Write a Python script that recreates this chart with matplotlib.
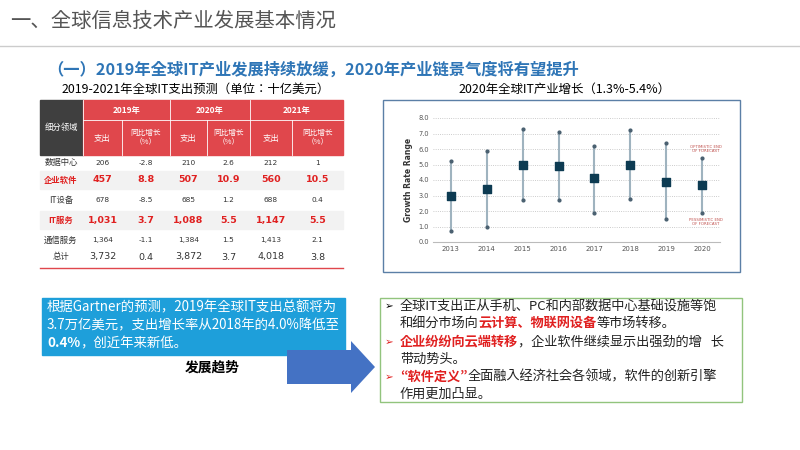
import matplotlib
matplotlib.use("Agg")
import matplotlib.pyplot as plt
from matplotlib.patches import Rectangle, FancyArrow
import numpy as np

plt.rcParams['font.family'] = ['Noto Sans CJK JP', 'DejaVu Sans']

# ---- data ----
years = ['2013', '2014', '2015', '2016', '2017', '2018', '2019', '2020']
mid = [3.0, 3.4, 5.0, 4.9, 4.1, 5.0, 3.9, 3.7]
low = [0.7, 1.0, 2.7, 2.7, 1.9, 2.8, 1.5, 1.9]
high = [5.2, 5.9, 7.3, 7.1, 6.2, 7.2, 6.4, 5.4]
yticks = [0.0, 1.0, 2.0, 3.0, 4.0, 5.0, 6.0, 7.0, 8.0]

table_years = ['2019年', '2020年', '2021年']
row_names = ['数据中心', '企业软件', 'IT设备', 'IT服务', '通信服务', '总计']
row_values = [
    ['206', '-2.8', '210', '2.6', '212', '1'],
    ['457', '8.8', '507', '10.9', '560', '10.5'],
    ['678', '-8.5', '685', '1.2', '688', '0.4'],
    ['1,031', '3.7', '1,088', '5.5', '1,147', '5.5'],
    ['1,364', '-1.1', '1,384', '1.5', '1,413', '2.1'],
    ['3,732', '0.4', '3,872', '3.7', '4,018', '3.8'],
]
highlight = [False, True, False, True, False, False]

W, H = 800, 450
fig = plt.figure(figsize=(8, 4.5), dpi=100)
fig.patch.set_facecolor('white')
R = fig.canvas.get_renderer()

def fx(x): return x / W
def fy(y): return 1 - y / H
def rect(x0, y0, x1, y1, **kw):
    fig.add_artist(Rectangle((fx(x0), fy(y1)), fx(x1 - x0), (y1 - y0) / H,
                             transform=fig.transFigure, **kw))
def txt(x, y, s, **kw):
    return fig.text(fx(x), fy(y), s, **kw)
def width(t):
    return t.get_window_extent(R).width * W / fig.bbox.width
def fit(x, y, s, wpx, **kw):
    t = txt(x, y, s, fontsize=10, **kw)
    w = width(t)
    t.set_fontsize(10 * wpx / w)
    return t

# titles
fit(10, 21, '一、全球信息技术产业发展基本情况', 325, color='#555555', va='center')
fig.add_artist(plt.Line2D([0, 1], [fy(46), fy(46)], color='#cccccc', lw=1))
fit(47, 70, '（一）2019年全球IT产业发展持续放缓，2020年产业链景气度将有望提升', 533,
    color='#2E75B6', fontweight='bold', va='center')
fit(62, 89, '2019-2021年全球IT支出预测（单位：十亿美元）', 268, va='center')
fit(458, 89, '2020年全球IT产业增长（1.3%-5.4%）', 212, va='center')

# table
red = '#E0474C'
cols = [83, 122, 170, 207, 250, 292, 343]
rect(40, 100, 83, 155, color='#3F3F3F')
txt(61, 127, '细分领域', fontsize=6, color='white', ha='center', va='center')
rect(83, 100, 343, 155, color=red)
for i, yr in enumerate(table_years):
    xa, xb = cols[2 * i], cols[2 * i + 2]
    txt((xa + xb) / 2, 110, yr, fontsize=6, color='white', ha='center', va='center', fontweight='bold')
    fig.add_artist(plt.Line2D([fx(xa), fx(xa)], [fy(100), fy(155)], color='white', lw=0.6))
    txt((cols[2 * i] + cols[2 * i + 1]) / 2, 138, '支出', fontsize=6, color='white', ha='center', va='center')
    txt((cols[2 * i + 1] + cols[2 * i + 2]) / 2, 138, '同比增长\n（%）', fontsize=5.5, color='white',
        ha='center', va='center', linespacing=1.2)
    fig.add_artist(plt.Line2D([fx(cols[2 * i + 1])] * 2, [fy(120), fy(155)], color='white', lw=0.6))
fig.add_artist(plt.Line2D([fx(83), fx(343)], [fy(120), fy(120)], color='white', lw=0.6))
row_y = [163, 180, 200, 220, 240, 257]
for r, (name, vals) in enumerate(zip(row_names, row_values)):
    y = row_y[r]
    hl = highlight[r]
    if hl:
        rect(40, y - 9, 343, y + 9, color='#F2F2F2')
    c = '#E02020' if hl else '#333333'
    fw = 'bold' if hl else 'normal'
    txt(61, y, name, fontsize=6, color=c, fontweight=fw, ha='center', va='center')
    for j, v in enumerate(vals):
        big = hl or r == 5
        txt((cols[j] + cols[j + 1]) / 2, y, v, fontsize=6.8 if big else 5.3,
            color=c, fontweight=fw, ha='center', va='center', family='DejaVu Sans')
fig.add_artist(plt.Line2D([fx(40), fx(343)], [fy(268), fy(268)], color=red, lw=1))

# chart box
rect(383, 100, 740, 272, fill=False, ec='#5B7FA6', lw=1)
ax = fig.add_axes([fx(433), fy(242), fx(720 - 433), (242 - 118) / H])
x = np.arange(len(years))
ax.vlines(x, low, high, color='#9FB3BF', lw=1.5)
ax.scatter(x, low, s=4, color='#4a6070', zorder=3)
ax.scatter(x, high, s=4, color='#4a6070', zorder=3)
ax.scatter(x, mid, marker='s', s=30, color='#0D3B52', zorder=4)
ax.set_ylim(0, 8)
ax.set_yticks(yticks)
ax.set_yticklabels([f'{v:.1f}' for v in yticks], fontsize=4.8, color='#555555', family='DejaVu Sans')
ax.set_xticks(x)
ax.set_xticklabels(years, fontsize=5, color='#555555', family='DejaVu Sans')
ax.set_xlim(-0.5, len(years) - 0.5)
ax.grid(axis='y', ls=':', color='#bbbbbb', lw=0.6)
for s in ['top', 'right', 'left']:
    ax.spines[s].set_visible(False)
ax.spines['bottom'].set_color('#bbbbbb')
ax.tick_params(length=0, pad=3)
ax.set_ylabel('Growth Rate Range', fontsize=5.5, fontweight='bold', color='#333333', labelpad=4,
              family='DejaVu Sans')
ax.text(x[-1] + 0.1, 6.0, 'OPTIMISTIC END\nOF FORECAST', fontsize=2.8, color='#C0504D', ha='center', va='center',
        family='DejaVu Sans')
ax.text(x[-1] + 0.1, 1.3, 'PESSIMISTIC END\nOF FORECAST', fontsize=2.8, color='#C0504D', ha='center', va='center',
        family='DejaVu Sans')

# blue text box
rect(42, 298, 345, 355, color='#1E9FDA')
blue_fs = fit(47, 307, '根据Gartner的预测，2019年全球IT支出总额将为', 290, color='white', va='center').get_fontsize()
txt(47, 325, '3.7万亿美元，支出增长率从2018年的4.0%降低至', fontsize=blue_fs, color='white', va='center')
t = txt(47, 343, '0.4%', fontsize=blue_fs, color='white', va='center', fontweight='bold')
txt(47 + width(t), 343, '，创近年来新低。', fontsize=blue_fs, color='white', va='center')

fit(185, 368, '发展趋势', 55, fontweight='bold', va='center')
fig.add_artist(FancyArrow(fx(287), fy(367), fx(64), 0, width=34 / H, head_width=52 / H,
                          head_length=fx(24), length_includes_head=False,
                          transform=fig.transFigure, color='#4472C4', lw=0))

# right box
rect(380, 298, 742, 402, fill=False, ec='#92C47D', lw=1)
lines = [
    (306, [('全球IT支出正从手机、PC和内部数据中心基础设施等饱', 'k')], '➢', 'k'),
    (323, [('和细分市场向', 'k'), ('云计算、物联网设备', 'r'), ('等市场转移。', 'k')], None, None),
    (342, [('企业纷纷向云端转移', 'r'), ('，企业软件继续显示出强劲的增   长', 'k')], '➢', 'r'),
    (359, [('带动势头。', 'k')], None, None),
    (377, [('“软件定义”', 'r'), ('全面融入经济社会各领域，软件的创新引擎', 'k')], '➢', 'r'),
    (394, [('作用更加凸显。', 'k')], None, None),
]
tmp = txt(0, 0, '全球IT支出正从手机、PC和内部数据中心基础设施等饱', fontsize=10)
fs = 10 * 318 / width(tmp)
tmp.remove()
for y, parts, bullet, bc in lines:
    if bullet:
        txt(385, y, bullet, fontsize=7.5, color='#E02020' if bc == 'r' else 'k', va='center',
            family='DejaVu Sans')
    xpos = 400
    for s, c in parts:
        t = txt(xpos, y, s, fontsize=fs, va='center', color='#E02020' if c == 'r' else '#222222',
                fontweight='bold' if c == 'r' else 'normal')
        xpos += width(t)

fig.savefig('out.png', dpi=100)
